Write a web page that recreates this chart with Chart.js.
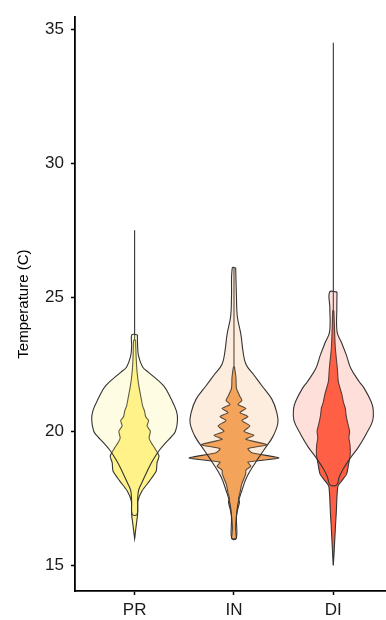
<!DOCTYPE html>
<html>
<head>
<meta charset="utf-8">
<script src="https://cdn.jsdelivr.net/npm/chart.js@4.4.1/dist/chart.umd.min.js"></script>
<style>
  html, body { margin: 0; padding: 0; background: #fff; }
</style>
</head>
<body>
<canvas id="chart" width="386" height="620"></canvas>
<script>
// categories and y ticks
const categories = ['PR', 'IN', 'DI'];
const yTicks = [15, 20, 25, 30, 35];

// full range of each group (vertical line)
const rangeLow = [16.0, 16.0, 15.0];
const rangeHigh = [27.5, 26.1, 34.5];

// outer (pale) violins: temperature levels, top to bottom, and density at each level
const prOuterTemp = [23.6, 23.2, 22.8, 22.4, 22.2, 21.7, 21.2, 20.75, 20.4, 20.0, 19.8, 19.6, 19.3, 18.9, 18.5, 18.1, 17.8, 17.4, 16.9];
const prOuterDens = [2.8, 3, 4, 8, 14, 29, 36.7, 42, 43, 41, 37, 32, 25, 18, 12.5, 7.5, 4, 3, 2.5];

const inOuterTemp = [26.1, 25.0, 24.3, 23.6, 23.0, 22.5, 22.1, 21.7, 21.2, 20.7, 20.3, 19.8, 19.3, 18.8, 18.3, 17.8, 17.3, 16.8, 16.0];
const inOuterDens = [1.7, 2.5, 3.3, 7, 9, 12, 20, 28, 38, 43, 44, 39, 30, 21, 13, 8, 4, 2.5, 2.3];

const diOuterTemp = [25.2, 24.6, 23.7, 23.3, 22.85, 22.35, 21.85, 21.6, 21.1, 20.8, 20.4, 19.9, 19.4, 19.0, 18.6, 18.3, 18.0];
const diOuterDens = [3.7, 3.5, 3.8, 8.3, 13, 17.5, 26, 31, 38, 40, 39.5, 33, 25, 17, 10, 6, 3.3];

// inner (strong) violins
const prInnerTemp = [23.4, 22.8, 22.2, 21.7, 21.2, 20.95, 20.75, 20.55, 20.4, 20.2, 20.0, 19.75, 19.55, 19.38, 19.07, 18.83, 18.52, 18.15, 17.78, 17.4, 16.9, 16.6, 16.0];
const prInnerDens = [1, 1.5, 2.5, 4.2, 6.7, 8, 10, 11, 14, 12.5, 15.8, 14.5, 17, 20, 24.5, 22.5, 21.7, 15, 7.5, 3.3, 3, 2, 0];

const inInnerTemp = [22.4, 22.0, 21.6, 21.3, 21.15, 21.0, 20.85, 20.7, 20.55, 20.4, 20.2, 20.0, 19.85, 19.7, 19.5, 19.35, 19.2, 19.0, 18.85, 18.7, 18.55, 18.4, 18.0, 17.7, 17.5, 17.35, 17.05, 16.8, 16.4, 16.15, 16.0];
const inInnerDens = [0.5, 2, 2.5, 6, 8, 4, 12, 6, 14, 8, 16, 10, 20, 12, 33, 14, 18, 45, 14, 17, 12, 11.7, 7.5, 6, 4.5, 5.5, 3.5, 2.3, 1.5, 2, 2.3];

const diInnerTemp = [24.5, 24.0, 23.5, 23.1, 22.35, 21.85, 21.35, 21.1, 20.86, 20.6, 20.37, 20.0, 19.75, 19.5, 19.14, 18.77, 18.4, 18.15, 17.96, 17.6, 17.0, 16.5, 16.0, 15.5, 15.0];
const diInnerDens = [0.5, 1, 1.5, 2, 4, 5, 8.7, 10, 12, 12.8, 14, 16.3, 15.6, 16.7, 17, 15.3, 13.3, 8.3, 4.7, 3.7, 3, 2.2, 1.5, 0.8, 0];

const innerColors = ['#fff38a', '#f4a35c', '#ff5f45'];
const outerColors = ['rgba(255,240,130,0.22)', 'rgba(244,163,92,0.2)', 'rgba(255,95,69,0.2)'];
const densityScale = 1 / 99.7;

function violin(center, temps, dens) {
  const right = temps.map((t, i) => ({ x: center + dens[i] * densityScale, y: t }));
  const left = temps.map((t, i) => ({ x: center - dens[i] * densityScale, y: t })).reverse();
  return right.concat(left, [right[0]]);
}

const outers = [[prOuterTemp, prOuterDens], [inOuterTemp, inOuterDens], [diOuterTemp, diOuterDens]];
const inners = [[prInnerTemp, prInnerDens], [inInnerTemp, inInnerDens], [diInnerTemp, diInnerDens]];

const datasets = [];
categories.forEach((c, i) => {
  const pos = i + 1;
  datasets.push({
    data: [{ x: pos, y: rangeLow[i] }, { x: pos, y: rangeHigh[i] }],
    showLine: true, borderColor: '#333', borderWidth: 1.1, pointRadius: 0, order: 3
  });
  datasets.push({
    data: violin(pos, inners[i][0], inners[i][1]),
    showLine: true, fill: 'shape', backgroundColor: innerColors[i],
    borderColor: '#333', borderWidth: 1.1, pointRadius: 0, tension: 0.2, order: 2
  });
  datasets.push({
    data: violin(pos, outers[i][0], outers[i][1]),
    showLine: true, fill: 'shape', backgroundColor: outerColors[i],
    borderColor: '#333', borderWidth: 1.1, pointRadius: 0, tension: 0.4, order: 1
  });
});

const font = 'Liberation Sans, Arial, sans-serif';

new Chart(document.getElementById('chart'), {
  type: 'scatter',
  data: { datasets },
  options: {
    responsive: false,
    animation: false,
    devicePixelRatio: 1,
    layout: { padding: { top: 12, right: 0, bottom: 0, left: 0 } },
    plugins: { legend: { display: false }, tooltip: { enabled: false } },
    scales: {
      x: {
        type: 'linear', min: 0.4, max: 3.53,
        grid: { drawOnChartArea: false, drawTicks: true, tickLength: 4, tickColor: '#000', tickWidth: 1.5 },
        border: { color: '#000', width: 1.8 },
        afterBuildTicks: s => { s.ticks = categories.map((c, i) => ({ value: i + 1 })); },
        afterFit: s => { s.height = 29; },
        ticks: {
          color: '#1a1a1a', padding: 5, maxRotation: 0,
          font: { family: font, size: 17 },
          callback: v => categories[v - 1]
        }
      },
      y: {
        min: 14.04, max: 35.45,
        grid: { drawOnChartArea: false, drawTicks: true, tickLength: 4, tickColor: '#000', tickWidth: 1.5 },
        border: { color: '#000', width: 1.8 },
        afterBuildTicks: s => { s.ticks = yTicks.map(v => ({ value: v })); },
        afterFit: s => { s.width = 75; },
        ticks: { color: '#1a1a1a', padding: 7, font: { family: font, size: 17 } },
        title: {
          display: true, text: 'Temperature (C)', color: '#000',
          font: { family: font, size: 15 }, padding: { top: 15, bottom: 0 }
        }
      }
    }
  }
});
</script>
</body>
</html>
